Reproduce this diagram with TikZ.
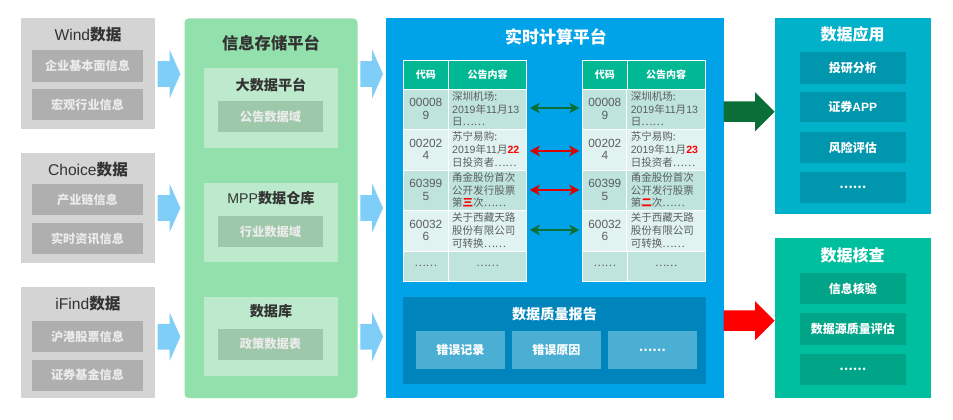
\documentclass[tikz,border=0pt]{standalone}
\usepackage{fontspec}
\setmainfont{Noto Sans CJK SC}
\newfontfamily\lat{Liberation Sans}
\usetikzlibrary{arrows.meta,shapes.arrows}

\definecolor{grispanel}{HTML}{D4D4D4}
\definecolor{grisbloc}{HTML}{B0AFB0}
\definecolor{vertpanel}{HTML}{92E1AC}
\definecolor{vertclair}{HTML}{BDEACC}
\definecolor{vertbloc}{HTML}{9DC8A9}
\definecolor{bleupanel}{HTML}{00A2E8}
\definecolor{bleufonce}{HTML}{0084BC}
\definecolor{bleubloc}{HTML}{4BAFD4}
\definecolor{cyanpanel}{HTML}{00B1C9}
\definecolor{cyanbloc}{HTML}{0096AD}
\definecolor{turqpanel}{HTML}{00BF9E}
\definecolor{turqbloc}{HTML}{00A588}
\definecolor{tete}{HTML}{00B893}
\definecolor{ligneA}{HTML}{BFE3DD}
\definecolor{ligneB}{HTML}{E1F3F0}
\definecolor{texte}{HTML}{333333}
\definecolor{texteligne}{HTML}{5A5F5E}
\definecolor{vertfleche}{HTML}{0A6E36}
\definecolor{flechebleue}{HTML}{7FCEF7}

% bloc defini par ses coins : nom, style, x1, y1, x2, y2, texte
\newcommand{\bloc}[7]{
    \pgfmathsetmacro{\cx}{(#3+#5)/2}
    \pgfmathsetmacro{\cy}{(#4+#6)/2}
    \pgfmathsetmacro{\lw}{(#5-#3)*.75}
    \pgfmathsetmacro{\lh}{(#6-#4)*.75}
    \node[inner sep=0pt, minimum width=\lw pt, minimum height=\lh pt, #2] (#1) at (\cx,\cy) {#7};
}

\tikzset{
    titre/.style={text=texte, font=\bfseries\fontsize{11.7}{14}\selectfont},
    soustitre/.style={text=texte, font=\bfseries\fontsize{10.6}{13}\selectfont},
    titreblanc/.style={text=white, font=\bfseries\fontsize{12}{14}\selectfont},
    grisb/.style={fill=grisbloc, text=white!92!black, font=\bfseries\fontsize{9.1}{11}\selectfont},
    vertb/.style={fill=vertbloc, text=white!92!black, font=\bfseries\fontsize{9.2}{11}\selectfont},
    cyanb/.style={fill=cyanbloc, text=white, font=\bfseries\fontsize{9}{11}\selectfont},
    turqb/.style={fill=turqbloc, text=white, font=\bfseries\fontsize{9}{11}\selectfont},
    bleub/.style={fill=bleubloc, text=white, font=\bfseries\fontsize{9}{11}\selectfont},
    entete/.style={fill=tete, draw=white, line width=.6pt, text=white, font=\bfseries\fontsize{7.5}{9}\selectfont},
    code/.style={draw=white, line width=.6pt, text=texteligne, align=center, font=\lat\fontsize{8.9}{9.5}\selectfont},
    contenu/.style={draw=white, line width=.6pt, text=texteligne, align=left, inner xsep=3pt, text width=53pt, font=\fontsize{7.9}{9.5}\selectfont},
    plate/.style={single arrow, draw=none, fill=flechebleue, inner xsep=0pt, inner ysep=9.4pt, anchor=tip, minimum height=17pt, single arrow head extend=8.6pt, single arrow tip angle=132},
    grosse/.style={single arrow, draw=none, inner xsep=0pt, inner ysep=7.5pt, anchor=tip, minimum height=38.2pt, single arrow head extend=7pt, single arrow tip angle=90},
    lien/.style={<->, line width=1.3pt, shorten <=2pt, shorten >=2pt}
}

\begin{document}
\begin{tikzpicture}[x=.75pt, y=-.75pt, >={Stealth[length=7.5pt,width=8pt,inset=2.2pt]}]

    \useasboundingbox (0,0) rectangle (953,420);

    % sources
    \bloc{wind}{fill=grispanel}{20.5}{18.5}{155}{129}{}
    \node[titre] (windt) at (88,35) {{\lat\mdseries Wind}数据};
    \bloc{wind1}{grisb}{32}{50}{143}{82}{企业基本面信息}
    \bloc{wind2}{grisb}{32}{89}{143}{120}{宏观行业信息}

    \bloc{choice}{fill=grispanel}{20.5}{153}{155}{263}{}
    \node[titre] (choicet) at (88,170) {{\lat\mdseries Choice}数据};
    \bloc{choice1}{grisb}{32}{184}{143}{215}{产业链信息}
    \bloc{choice2}{grisb}{32}{223}{143}{254}{实时资讯信息}

    \bloc{ifind}{fill=grispanel}{20.5}{287}{155}{398}{}
    \node[titre] (ifindt) at (88,304) {{\lat\mdseries iFind}数据};
    \bloc{ifind1}{grisb}{32}{321}{143}{352}{沪港股票信息}
    \bloc{ifind2}{grisb}{32}{359.5}{143}{391}{证券基金信息}

    % stockage
    \bloc{stock}{fill=vertpanel, rounded corners=3pt}{184.5}{18.5}{357.5}{398}{}
    \node[titre, font=\bfseries\fontsize{12.2}{14}\selectfont] (stockt) at (271,43) {信息存储平台};

    \bloc{big}{fill=vertclair}{204}{68}{338}{148}{}
    \node[soustitre] (bigt) at (271,85) {大数据平台};
    \bloc{big1}{vertb}{218}{101}{323}{132}{公告数据域}

    \bloc{mpp}{fill=vertclair}{204}{183}{338}{262}{}
    \node[soustitre] (mppt) at (271,198) {{\lat\mdseries MPP}数据仓库};
    \bloc{mpp1}{vertb}{218}{216}{323}{247.5}{行业数据域}

    \bloc{base}{fill=vertclair}{204}{297}{338}{376}{}
    \node[soustitre] (baset) at (271,311) {数据库};
    \bloc{base1}{vertb}{218}{329}{323}{359.5}{政策数据表}

    % fleches bleues
    \foreach \n/\y in {a/74,b/208,c/336.7}{
        \node[plate] (pl\n) at (180.7,\y) {};
        \node[plate] (pr\n) at (383.3,\y) {};
    }

    % calcul temps reel
    \bloc{calc}{fill=bleupanel}{386}{18.5}{724}{398}{}
    \node[titreblanc, font=\bfseries\fontsize{12.7}{15}\selectfont] (calct) at (556,37) {实时计算平台};

    % tables
    \foreach \s/\xa/\xb/\xc/\ra/\rb in {l/403.3/448.3/526.7/22/三, r/582.3/627.3/705/23/二}{
        \bloc{\s-h1}{entete}{\xa}{60}{\xb}{89}{代码}
        \bloc{\s-h2}{entete}{\xb}{60}{\xc}{89}{公告内容}

        \bloc{\s-c1}{code, fill=ligneA}{\xa}{89}{\xb}{129}{00008\\9}
        \bloc{\s-t1}{contenu, fill=ligneA}{\xb}{89}{\xc}{129}{深圳机场:\\{\lat 2019}年{\lat 11}月{\lat 13}\\日……}
        \bloc{\s-c2}{code, fill=ligneB}{\xa}{129}{\xb}{170}{00202\\4}
        \bloc{\s-t2}{contenu, fill=ligneB}{\xb}{129}{\xc}{170}{苏宁易购:\\{\lat 2019}年{\lat 11}月{\lat\bfseries\color{red}\ra}\\日投资者……}
        \bloc{\s-c3}{code, fill=ligneA}{\xa}{170}{\xb}{210}{60399\\5}
        \bloc{\s-t3}{contenu, fill=ligneA}{\xb}{170}{\xc}{210}{甬金股份首次\\公开发行股票\\第{\bfseries\color{red}\rb}次……}
        \bloc{\s-c4}{code, fill=ligneB}{\xa}{210}{\xb}{251}{60032\\6}
        \bloc{\s-t4}{contenu, fill=ligneB}{\xb}{210}{\xc}{251}{关于西藏天路\\股份有限公司\\可转换……}
        \bloc{\s-c5}{code, font=\fontsize{7.9}{9.5}\selectfont, fill=ligneA}{\xa}{251}{\xb}{281}{……}
        \bloc{\s-t5}{code, font=\fontsize{7.9}{9.5}\selectfont, fill=ligneA}{\xb}{251}{\xc}{281}{……}
    }

    % comparaison
    \draw[lien, vertfleche] ([yshift=.75pt]l-t1.east) -- ([yshift=.75pt]r-c1.west);
    \draw[lien, red!85!black] ([yshift=-1.1pt]l-t2.east) -- ([yshift=-1.1pt]r-c2.west);
    \draw[lien, red!85!black] (l-t3) -- (r-c3);
    \draw[lien, vertfleche] ([yshift=.4pt]l-t4.east) -- ([yshift=.4pt]r-c4.west);

    % rapport
    \bloc{rapport}{fill=bleufonce}{403.3}{297.3}{706}{384}{}
    \node[text=white, font=\bfseries\fontsize{10.6}{13}\selectfont] (rapportt) at (554.5,314) {数据质量报告};
    \bloc{rapport1}{bleub}{415.7}{331}{505}{368.7}{错误记录}
    \bloc{rapport2}{bleub}{511.7}{331}{601}{368.7}{错误原因}
    \bloc{rapport3}{bleub}{607.7}{331}{697}{368.7}{……}

    % sorties
    \bloc{appli}{fill=cyanpanel}{775}{18.5}{930.5}{214.5}{}
    \node[titreblanc] (applit) at (852.5,34) {数据应用};
    \bloc{appli1}{cyanb}{800}{52}{905.5}{84}{投研分析}
    \bloc{appli2}{cyanb}{800}{92}{905.5}{122.5}{证券{\lat APP}}
    \bloc{appli3}{cyanb}{800}{132}{905.5}{163}{风险评估}
    \bloc{appli4}{cyanb}{800}{172}{905.5}{203}{……}

    \bloc{verif}{fill=turqpanel}{775}{238.5}{930.5}{398}{}
    \node[titreblanc] (verift) at (852.5,255) {数据核查};
    \bloc{verif1}{turqb}{800}{273}{905.5}{304}{信息核验}
    \bloc{verif2}{turqb}{800}{313.5}{905.5}{344.5}{数据源质量评估}
    \bloc{verif3}{turqb}{800}{354}{905.5}{385}{……}

    % grosses fleches
    \node[grosse, fill=vertfleche] (fappli) at (775,111.7) {};
    \node[grosse, fill=red] (fverif) at (775,320.7) {};

\end{tikzpicture}
\end{document}
